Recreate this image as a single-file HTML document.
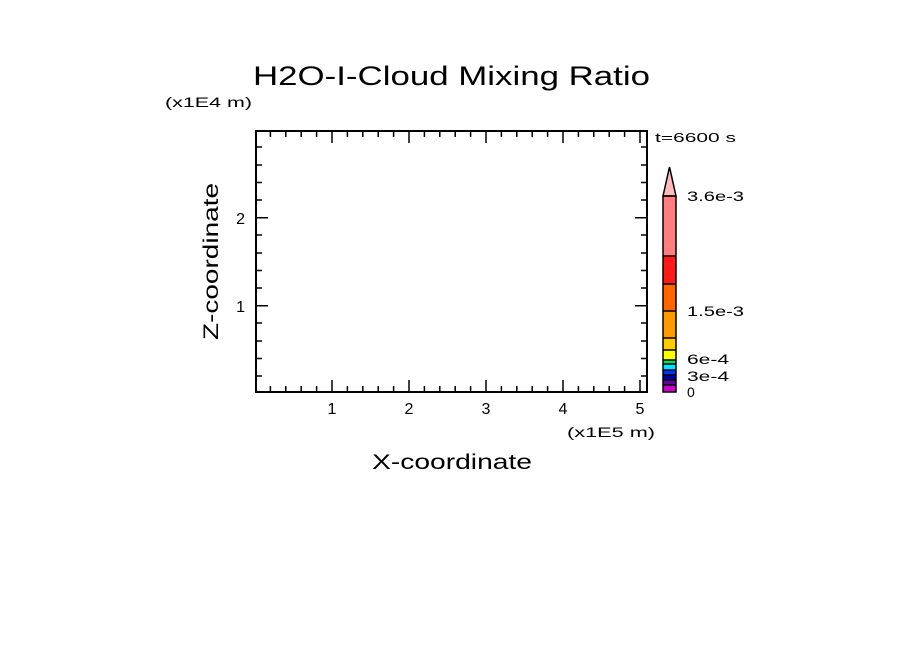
<!DOCTYPE html>
<html><head><style>body{margin:0;background:#fff}svg{display:block}</style></head><body>
<svg width="904" height="654" xmlns="http://www.w3.org/2000/svg" font-family="Liberation Sans, DejaVu Sans, sans-serif">
<rect width="904" height="654" fill="#fff"/>
<text x="253" y="85" font-size="27" textLength="397" lengthAdjust="spacingAndGlyphs">H2O-I-Cloud Mixing Ratio</text>
<text x="165" y="107" font-size="14" textLength="87" lengthAdjust="spacingAndGlyphs">(x1E4 m)</text>
<text x="567" y="437" font-size="14" textLength="88" lengthAdjust="spacingAndGlyphs">(x1E5 m)</text>
<text x="372" y="469" font-size="21" textLength="160" lengthAdjust="spacingAndGlyphs">X-coordinate</text>
<text transform="translate(218,340) rotate(-90)" font-size="21" textLength="157" lengthAdjust="spacingAndGlyphs">Z-coordinate</text>
<text x="655" y="142" font-size="13" textLength="81" lengthAdjust="spacingAndGlyphs">t=6600 s</text>
<g stroke="#000" fill="none">
<rect x="256" y="131" width="391" height="261" stroke-width="2"/>
<g stroke-width="1.5">
<path d="M256 217.7h12M647 217.7h-12M256 305.7h12M647 305.7h-12"/>
<path d="M332 392v-12M409 392v-12M486 392v-12M563 392v-12M640 392v-12M332 131v12M409 131v12M486 131v12M563 131v12M640 131v12"/>
<path d="M256 376h6M256 358.5h6M256 341h6M256 323h6M256 288h6M256 270.5h6M256 253h6M256 235h6M256 200h6M256 182.5h6M256 165h6M256 147h6
M647 376h-6M647 358.5h-6M647 341h-6M647 323h-6M647 288h-6M647 270.5h-6M647 253h-6M647 235h-6M647 200h-6M647 182.5h-6M647 165h-6M647 147h-6"/>
<path d="M270.4 392v-6M285.8 392v-6M301.2 392v-6M316.6 392v-6M347.4 392v-6M362.8 392v-6M378.2 392v-6M393.6 392v-6M424.4 392v-6M439.8 392v-6M455.2 392v-6M470.6 392v-6M501.4 392v-6M516.8 392v-6M532.2 392v-6M547.6 392v-6M578.4 392v-6M593.8 392v-6M609.2 392v-6M624.6 392v-6
M270.4 131v6M285.8 131v6M301.2 131v6M316.6 131v6M347.4 131v6M362.8 131v6M378.2 131v6M393.6 131v6M424.4 131v6M439.8 131v6M455.2 131v6M470.6 131v6M501.4 131v6M516.8 131v6M532.2 131v6M547.6 131v6M578.4 131v6M593.8 131v6M609.2 131v6M624.6 131v6"/>
</g></g>
<g font-size="16" text-anchor="middle">
<text x="332" y="414">1</text><text x="409" y="414">2</text><text x="486" y="414">3</text><text x="563" y="414">4</text><text x="640" y="414">5</text>
</g>
<g font-size="16" text-anchor="end">
<text x="245" y="224">2</text><text x="245" y="312">1</text>
</g>
<g stroke="none">
<rect x="663" y="196" width="13" height="60" fill="#ff7f7f"/>
<rect x="663" y="256" width="13" height="28" fill="#ff1a1a"/>
<rect x="663" y="284" width="13" height="27" fill="#ff6600"/>
<rect x="663" y="311" width="13" height="27" fill="#ff9900"/>
<rect x="663" y="338" width="13" height="12" fill="#ffcc00"/>
<rect x="663" y="350" width="13" height="10" fill="#ffff00"/>
<rect x="663" y="360" width="13" height="4" fill="#00e060"/>
<rect x="663" y="364" width="13" height="6" fill="#00e5ff"/>
<rect x="663" y="370" width="13" height="5" fill="#0033ff"/>
<rect x="663" y="375" width="13" height="5" fill="#0000aa"/>
<rect x="663" y="380" width="13" height="5" fill="#660099"/>
<rect x="663" y="385" width="13" height="7" fill="#cc00cc"/>
</g>
<polygon points="663,196 669.5,167 676,196" fill="#ffbbbb" stroke="#000" stroke-width="1.5"/>
<g stroke="#000" stroke-width="1.5" fill="none">
<rect x="663" y="196" width="13" height="196"/>
<path d="M663 256h13M663 284h13M663 311h13M663 338h13M663 350h13M663 360h13M663 364h13M663 370h13M663 375h13M663 380h13M663 385h13"/>
</g>
<g font-size="14">
<text x="687" y="201" textLength="57" lengthAdjust="spacingAndGlyphs">3.6e-3</text>
<text x="687" y="316" textLength="57" lengthAdjust="spacingAndGlyphs">1.5e-3</text>
<text x="687" y="364" textLength="42" lengthAdjust="spacingAndGlyphs">6e-4</text>
<text x="687" y="381" textLength="42" lengthAdjust="spacingAndGlyphs">3e-4</text>
<text x="687" y="397">0</text>
</g>
</svg>
</body></html>
